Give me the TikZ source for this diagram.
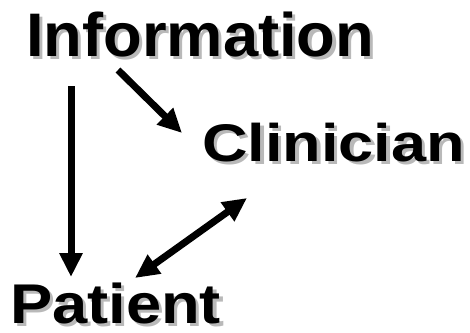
\documentclass[tikz,border=0pt]{standalone}
\usepackage{fontspec}
\usepackage{graphicx}
\setmainfont{Liberation Sans}
\usetikzlibrary{arrows.meta}
\definecolor{shadowgray}{RGB}{185,185,185}
\newcommand{\shadowtext}[1]{\makebox[0pt][l]{\hspace{3pt}\raisebox{-3pt}{\color{shadowgray}#1}}#1}
\tikzset{
  word/.style={anchor=base west, inner sep=0pt, outer sep=0pt, font=\bfseries},
  bigarrow/.style={line width=7pt, -{Triangle[length=24pt,width=22pt]}},
  bigdarrow/.style={line width=7pt, {Triangle[length=24pt,width=22pt]}-{Triangle[length=24pt,width=22pt]}}
}
\begin{document}
\begin{tikzpicture}[x=1pt,y=1pt]
\useasboundingbox (0,0) rectangle (470,-332);
\node[word] (info) at (26,-56.7) {\fontsize{61.5}{62}\selectfont\scalebox{1.03}[1]{\shadowtext{Information}}};
\node[word] (clin) at (202,-161.7) {\fontsize{53}{54}\selectfont\scalebox{1.19}[1]{\shadowtext{Clinician}}};
\node[word] (pat) at (10,-323) {\fontsize{56}{57}\selectfont\scalebox{1.13}[1]{\shadowtext{Patient}}};
\coordinate (infoL) at (71,-86);
\coordinate (patT) at (71,-277);
\coordinate (infoR) at (118,-70);
\coordinate (clinL) at (182,-133);
\coordinate (clinB) at (247,-198);
\coordinate (patR) at (135,-278);
\draw[bigarrow] (infoL) -- (patT);
\draw[bigarrow] (infoR) -- (clinL);
\draw[bigdarrow] (patR) -- (clinB);
\end{tikzpicture}
\end{document}
